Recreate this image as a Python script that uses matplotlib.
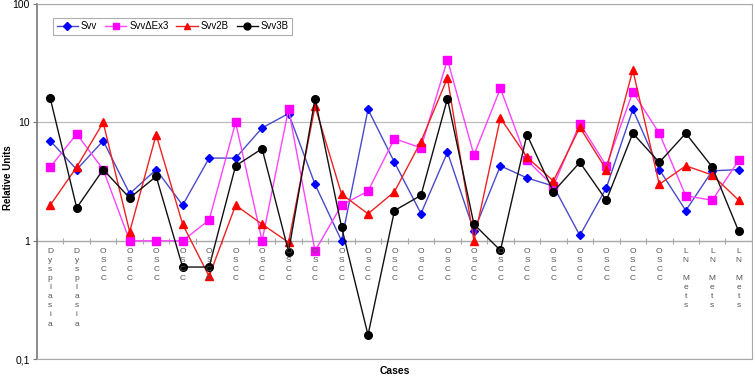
import matplotlib
matplotlib.use("Agg")
import matplotlib.pyplot as plt
import numpy as np

plt.rcParams['font.family'] = ['Liberation Sans', 'DejaVu Sans']

cases = ['Dysplasia', 'Dysplasia'] + ['OSCC'] * 22 + ['LN Mets'] * 3

svv = [7.0, 4.0, 7.0, 2.5, 4.0, 2.0, 5.0, 5.0, 9.0, 11.9, 3.0, 1.0, 12.9, 4.6,
       1.7, 5.6, 1.21, 4.3, 3.4, 2.9, 1.11, 2.8, 12.9, 4.0, 1.8, 3.9, 4.0]
svv_dex3 = [4.2, 8.0, 4.0, 1.0, 1.0, 1.0, 1.5, 10.0, 1.0, 13.0, 0.82, 2.0, 2.63, 7.3,
            6.1, 34.0, 5.3, 19.4, 4.8, 2.9, 9.8, 4.3, 18.1, 8.1, 2.4, 2.2, 4.8]
svv2b = [2.0, 4.2, 10.0, 1.19, 7.9, 1.38, 0.5, 2.0, 1.38, 0.97, 13.7, 2.48, 1.69, 2.6,
         6.9, 23.8, 1.0, 10.9, 5.1, 3.2, 9.1, 4.0, 27.7, 3.0, 4.3, 3.6, 2.2]
svv3b = [16.0, 1.9, 4.0, 2.3, 3.5, 0.6, 0.6, 4.3, 6.0, 0.81, 15.9, 1.31, 0.16, 1.8,
         2.42, 15.9, 1.38, 0.83, 7.9, 2.6, 4.6, 2.2, 8.1, 4.6, 8.1, 4.2, 1.2]

x = np.arange(len(cases))

fig = plt.figure(figsize=(7.55, 3.78), dpi=100)
ax = fig.add_axes([0.049, 0.05, 0.947, 0.939])

ax.plot(x, svv, color='#4a4acc', lw=1, marker='D', ms=4,
        mfc='#0000ff', mec='#0000ff', label='Svv')
ax.plot(x, svv_dex3, color='#ff44ff', lw=1, marker='s', ms=5.5,
        mfc='#ff00ff', mec='#ff00ff', label='SvvΔEx3')
ax.plot(x, svv2b, color='#ee2222', lw=1, marker='^', ms=5.5,
        mfc='#ff0000', mec='#ff0000', label='Svv2B')
ax.plot(x, svv3b, color='#111111', lw=1, marker='o', ms=5.5,
        mfc='#000000', mec='#000000', label='Svv3B')

ax.set_yscale('log')
ax.set_ylim(0.1, 100)
ax.set_xlim(-0.5, len(cases) - 0.5)
ax.set_yticks([0.1, 1, 10, 100])
ax.set_yticklabels(['0,1', '1', '10', '100'], fontsize=7.5)
ax.yaxis.set_minor_locator(matplotlib.ticker.NullLocator())
ax.set_xticks([])
ax.yaxis.grid(True, color='#bbbbbb', lw=0.9)
ax.set_axisbelow(True)
ax.tick_params(axis='y', length=3, color='#777777', width=0.8, pad=2)

# category axis crosses at 1
ax.axhline(1, color='#aaaaaa', lw=0.9, zorder=1)
ax.plot(np.arange(len(cases) + 1) - 0.5, np.ones(len(cases) + 1), ls='none',
        marker='|', ms=4, color='#aaaaaa', mew=0.8, zorder=1)
for i, name in enumerate(cases):
    ax.annotate('\n'.join(name), (i, 1), xytext=(0, -5), textcoords='offset points',
                ha='center', va='top', fontsize=6, color='#555555', linespacing=1.42)

for side in ['top', 'right', 'bottom']:
    ax.spines[side].set_color('#aaaaaa')
ax.spines['left'].set_color('#777777')
ax.spines['left'].set_linewidth(1.2)

fig.text(0.011, 0.53, 'Relative Units', fontsize=7, fontweight='bold',
         rotation=90, ha='center', va='center')
fig.text(0.523, 0.018, 'Cases', fontsize=7.5, fontweight='bold', ha='center', va='center')

leg = ax.legend(loc='upper left', bbox_to_anchor=(0.016, 0.975), ncol=4, fontsize=7,
                frameon=True, fancybox=False, edgecolor='#999999', handlelength=2.2,
                columnspacing=0.8, handletextpad=0.3, borderpad=0.35, markerscale=0.9)
leg.get_frame().set_linewidth(0.8)

fig.savefig('out.png', dpi=100)
